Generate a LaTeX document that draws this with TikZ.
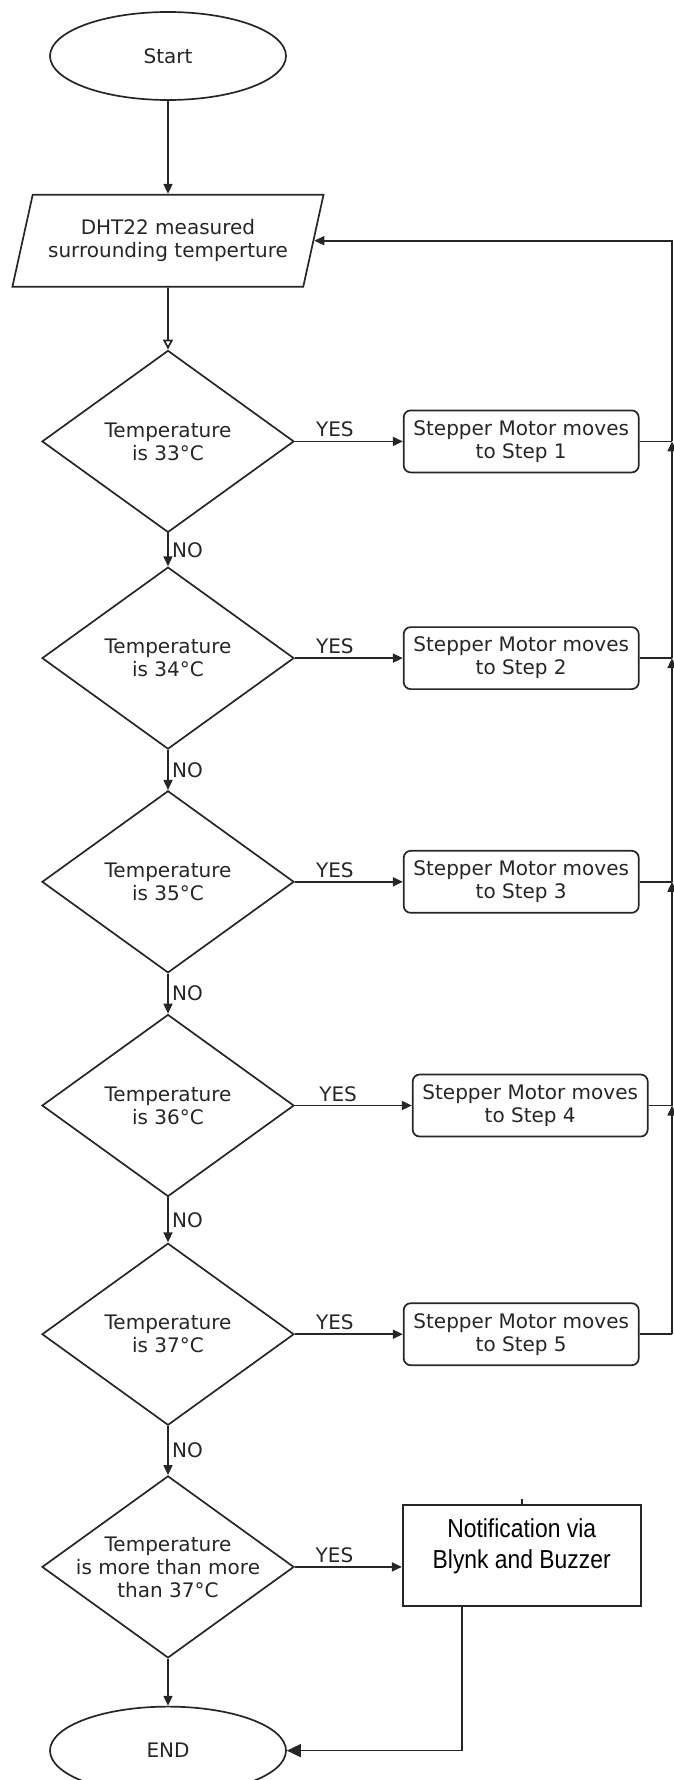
\documentclass[tikz,border=0pt]{standalone}
\usepackage{fontspec}
\setmainfont{DejaVu Sans}
\newfontfamily\notefont[FakeStretch=0.88]{Liberation Sans}
\usepackage{tikz}
\usetikzlibrary{arrows.meta, positioning, shapes.geometric}
\definecolor{ink}{HTML}{262626}

\begin{document}
\begin{tikzpicture}[
    x=1pt, y=1pt,
    line width=1.7pt,
    font=\fontsize{20}{23}\selectfont,
    text=ink, draw=ink,
    >={Triangle[length=10pt,width=9pt]},
    term/.style={draw, ellipse, minimum width=236pt, minimum height=88pt, inner sep=0},
    inbox/.style={draw, trapezium, trapezium left angle=67, trapezium right angle=113,
        trapezium stretches=true, minimum width=312pt, minimum height=92pt, inner sep=0, align=center},
    test/.style={draw, diamond, aspect=1.385, minimum width=252pt, minimum height=182pt,
        inner sep=-20pt, align=center},
    move/.style={draw, rounded corners=7pt, minimum width=235pt, minimum height=62pt,
        inner sep=0, align=center},
    alarm/.style={draw, minimum width=238pt, minimum height=101pt, inner sep=0, align=center,
        font=\notefont\fontsize{26}{31}\selectfont, text=black},
    tag/.style={font=\fontsize{20}{23}\selectfont}
]
\useasboundingbox (0,0) rectangle (673,-1780);

% main column
\node[term] (start) at (168,-56) {Start};
\node[inbox, below=93pt of start] (read) {DHT22 measured\\surrounding temperture};
\node[test, below=62pt of read] (d1) {Temperature\\is 33\textdegree C};
\node[test, below=33pt of d1] (d2) {Temperature\\is 34\textdegree C};
\node[test, below=40pt of d2] (d3) {Temperature\\is 35\textdegree C};
\node[test, below=40pt of d3] (d4) {Temperature\\is 36\textdegree C};
\node[test, below=45pt of d4] (d5) {Temperature\\is 37\textdegree C};
\node[test, below=49pt of d5] (d6) {Temperature\\is more than more\\than 37\textdegree C};
\node[term, below=47pt of d6] (end) {END};

% actions
\node[move, right=108pt of d1] (b1) {Stepper Motor moves\\to Step 1};
\node[move, right=108pt of d2] (b2) {Stepper Motor moves\\to Step 2};
\node[move, right=108pt of d3] (b3) {Stepper Motor moves\\to Step 3};
\node[move, right=117pt of d4] (b4) {Stepper Motor moves\\to Step 4};
\node[move, right=108pt of d5] (b5) {Stepper Motor moves\\to Step 5};
\node[alarm, right=107pt of d6, yshift=11.5pt] (note) {Notification via\\Blynk and Buzzer\\[-8pt]\mbox{}};

\coordinate (rx) at (672,0);
\coordinate (nx) at (462,0);

\draw[->] (start) -- (read);
\draw[-{Triangle[open,length=10pt,width=10pt]}] (read) -- (d1);
\foreach \a/\b in {d1/d2, d2/d3, d3/d4, d4/d5, d5/d6}
    \draw[->] (\a) -- node[right, tag] {NO} (\b);
\draw[->] (d6) -- (end);

\foreach \d/\b in {d1/b1, d2/b2, d3/b3, d4/b4, d5/b5}
    \draw[->] (\d) -- node[above, pos=0.37, tag] {YES} (\b);
\draw[->] (d6) -- node[above, pos=0.37, tag] {YES} (d6 -| note.west);

% back to the sensor
\foreach \b in {b1, b2, b3, b4, b5}
    \draw (\b) -- (\b -| rx);
\foreach \lo/\hi in {b5/b4, b4/b3, b3/b2, b2/b1}
    \draw[->] (\lo -| rx) -- (\hi -| rx);
\draw[->] (b1 -| rx) -- (read.east -| rx) -- (read.east);

\draw (note.north) -- ++(0,5);
\draw[-{Triangle[length=14pt,width=13pt]}] (note.south -| nx) |- (end);
\end{tikzpicture}
\end{document}
